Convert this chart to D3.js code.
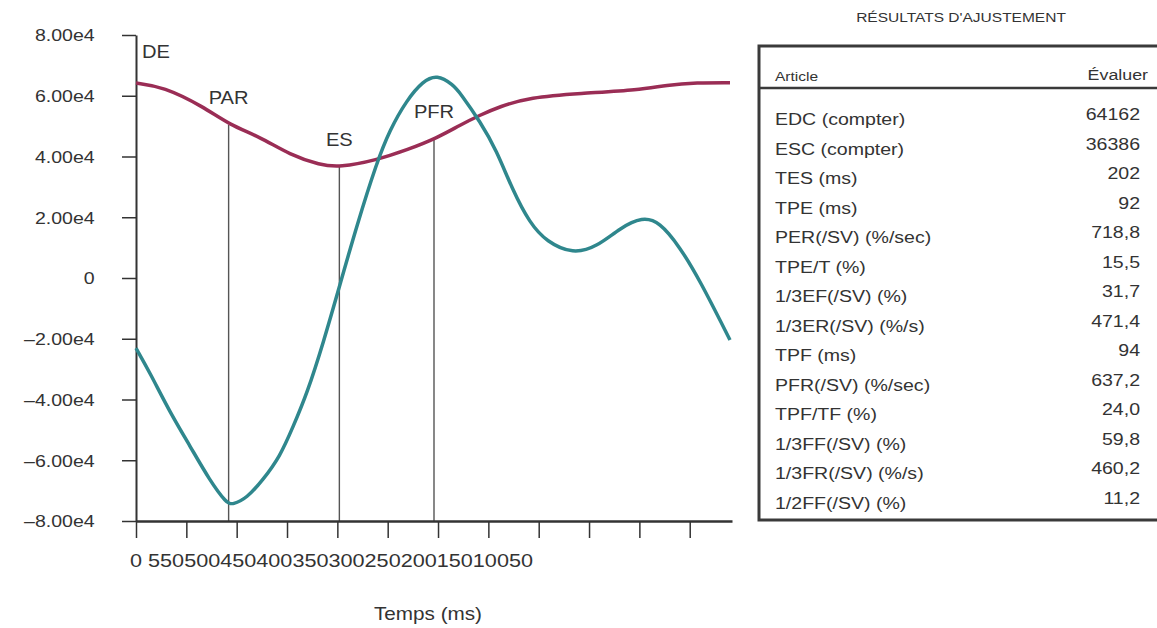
<!DOCTYPE html>
<html>
<head>
<meta charset="utf-8">
<script src="https://cdn.jsdelivr.net/npm/d3@7"></script>
<style>
  body { margin: 0; background: #fff; }
  text { font-family: "Liberation Sans", Arial, sans-serif; fill: #333; }
</style>
</head>
<body>
<svg id="chart" width="1157" height="628"></svg>
<script>
// axis ticks
const yTickValues = [-80000, -60000, -40000, -20000, 0, 20000, 40000, 60000, 80000]
const xTickValues = [0, 50, 100, 150, 200, 250, 300, 350, 400, 450, 500, 550]
const xTickLabels = ['0', '550', '500', '450', '400', '350', '300', '250', '200', '150', '100', '50']

// volume curve (counts)
const volumeTimes = [0, 27, 67, 93, 123, 153, 183, 202, 239, 269, 299, 322, 342, 361, 391, 441, 500, 527, 557, 590]
const volumeValues = [64162, 63000, 56400, 50400, 46500, 40500, 37200, 36386, 38850, 42140, 46090, 50370, 53660, 56400, 59490, 60800, 61890, 63540, 64300, 64300]

// rate curve (first derivative)
const rateTimes = [0, 14, 34, 54, 73, 90, 96, 110, 126, 143, 156, 170, 186, 203, 219, 239, 252, 269, 285, 299, 315, 322, 342, 358, 374, 391, 408, 434, 458, 481, 503, 520, 540, 560, 590]
const rateValues = [-23100, -31300, -44400, -55500, -66500, -74200, -74600, -72500, -66500, -58800, -49000, -37900, -21400, -1700, 16900, 37900, 48700, 58600, 64800, 67000, 63600, 60900, 51400, 42100, 29000, 18100, 11900, 7900, 10300, 16500, 20100, 18500, 10300, -700, -20400]

// event markers
const markerNames = ['PAR', 'ES', 'PFR']
const markerTimes = [92, 202, 296]
const markerValues = [50400, 36600, 45700]

// fit results table
const resultItems = ['EDC (compter)', 'ESC (compter)', 'TES (ms)', 'TPE (ms)', 'PER(/SV) (%/sec)', 'TPE/T (%)', '1/3EF(/SV) (%)', '1/3ER(/SV) (%/s)', 'TPF (ms)', 'PFR(/SV) (%/sec)', 'TPF/TF (%)', '1/3FF(/SV) (%)', '1/3FR(/SV) (%/s)', '1/2FF(/SV) (%)']
const resultValues = ['64162', '36386', '202', '92', '718,8', '15,5', '31,7', '471,4', '94', '637,2', '24,0', '59,8', '460,2', '11,2']

const SX = 1.15 // glyphs in the source are wider than tall
const AXIS = '#333'
const RED = '#9a2d55'
const TEAL = '#2f878d'

const svg = d3.select('#chart')

const x = d3.scaleLinear().domain([0, 592]).range([136, 732])
const y = d3.scaleLinear().domain([-80000, 80000]).range([521, 35])

// helper: horizontally stretched text
const label = (parent, px, py, str, size, anchor = 'start') =>
  parent
    .append('text')
    .attr('transform', `translate(${px},${py}) scale(${SX},1)`)
    .attr('text-anchor', anchor)
    .style('font-size', `${size}px`)
    .text(str)

const yFormat = (v) => (v === 0 ? '0' : `${v < 0 ? '–' : ''}${(Math.abs(v) / 10000).toFixed(2)}e4`)

// NOTE: drop lines first, curves go over them
svg
  .append('g')
  .selectAll('line')
  .data(markerTimes)
  .join('line')
  .attr('x1', (d) => x(d))
  .attr('x2', (d) => x(d))
  .attr('y1', (d, i) => y(markerValues[i]))
  .attr('y2', y(-80000))
  .attr('stroke', '#555')
  .attr('stroke-width', 1.4)

// y axis
const yAxis = svg
  .append('g')
  .attr('transform', `translate(${x(0)},0)`)
  .call(d3.axisLeft(y).tickValues(yTickValues).tickFormat(yFormat).tickSize(14).tickSizeOuter(0).tickPadding(22))
yAxis.select('.domain').attr('stroke', AXIS).attr('stroke-width', 2)
yAxis.selectAll('.tick line').attr('stroke', AXIS).attr('stroke-width', 1.5)
yAxis
  .selectAll('.tick text')
  .attr('transform', `scale(${SX},1)`)
  .attr('dy', '0.35em')
  .style('font-size', '17px')
  .style('font-family', '"Liberation Sans", Arial, sans-serif')
  .attr('fill', '#333')

// x axis
const xAxis = svg
  .append('g')
  .attr('transform', `translate(0,${y(-80000)})`)
  .call(d3.axisBottom(x).tickValues(xTickValues).tickFormat('').tickSize(17).tickSizeOuter(0))
xAxis.select('.domain').attr('stroke', AXIS).attr('stroke-width', 2.5)
xAxis.selectAll('.tick line').attr('stroke', AXIS).attr('stroke-width', 1.5)

// NOTE: tick labels are printed run together in the source
const xLabelText = svg
  .append('text')
  .attr('transform', `translate(130,567) scale(${SX},1)`)
  .attr('textLength', 403 / SX)
  .attr('lengthAdjust', 'spacingAndGlyphs')
  .style('font-size', '17.5px')
xLabelText
  .selectAll('tspan')
  .data(xTickLabels)
  .join('tspan')
  .text((d, i) => (i === 0 ? `${d} ` : d))

label(svg, 428, 620, 'Temps (ms)', 18, 'middle')

// curves
const line = d3.line().curve(d3.curveBasis)

svg
  .append('path')
  .attr('d', line(volumeTimes.map((t, i) => [x(t), y(volumeValues[i])])))
  .attr('fill', 'none')
  .attr('stroke', RED)
  .attr('stroke-width', 3.5)

svg
  .append('path')
  .attr('d', line(rateTimes.map((t, i) => [x(t), y(rateValues[i])])))
  .attr('fill', 'none')
  .attr('stroke', TEAL)
  .attr('stroke-width', 3.5)

// event labels
label(svg, x(0) + 6, 58, 'DE', 17.5)
markerNames.forEach((name, i) => {
  label(svg, x(markerTimes[i]), y(markerValues[i]) - 21, name, 17.5, 'middle')
})

// results table
const table = svg.append('g')
label(table, 961, 22, 'RÉSULTATS D\'AJUSTEMENT', 13.5, 'middle')

table
  .append('rect')
  .attr('x', 759)
  .attr('y', 46)
  .attr('width', 420)
  .attr('height', 474)
  .attr('fill', 'none')
  .attr('stroke', '#3a3a3a')
  .attr('stroke-width', 3)

table
  .append('line')
  .attr('x1', 759)
  .attr('x2', 1157)
  .attr('y1', 88)
  .attr('y2', 88)
  .attr('stroke', '#3a3a3a')
  .attr('stroke-width', 2.5)

label(table, 775, 81, 'Article', 13.5)
label(table, 1148, 80, 'Évaluer', 15.5, 'end')

const rowY = d3.scaleLinear().domain([0, 13]).range([125, 509])
resultItems.forEach((item, i) => {
  label(table, 775, rowY(i), item, 17)
  label(table, 1140, rowY(i) - 5, resultValues[i], 17, 'end')
})
</script>
</body>
</html>
